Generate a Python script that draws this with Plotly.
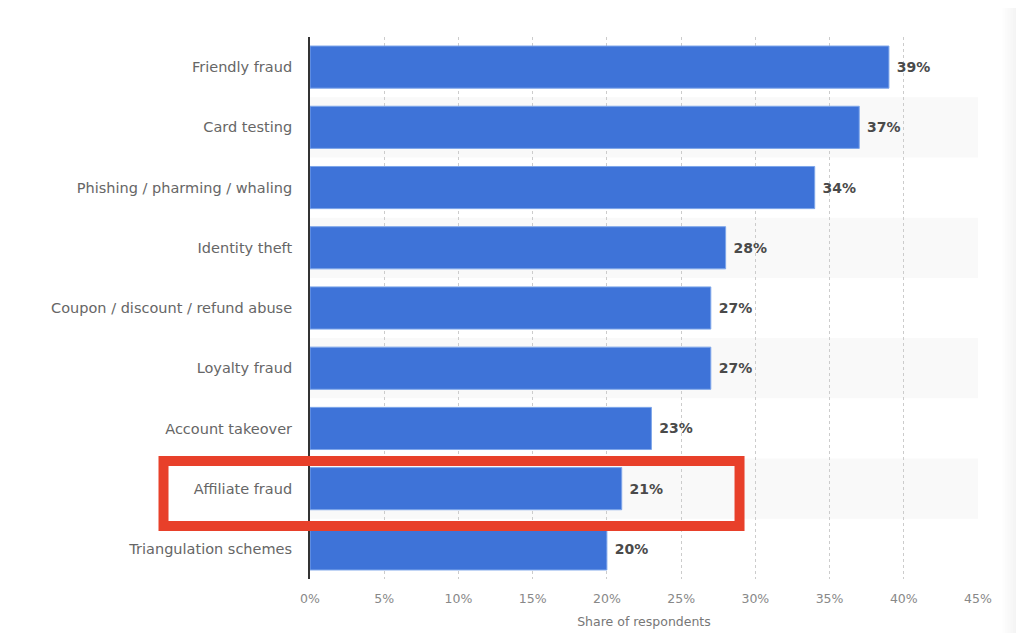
import plotly.graph_objects as go

# DATA

categories = [
    "Friendly fraud",
    "Card testing",
    "Phishing / pharming / whaling",
    "Identity theft",
    "Coupon / discount / refund abuse",
    "Loyalty fraud",
    "Account takeover",
    "Affiliate fraud",
    "Triangulation schemes",
]
shares = [39, 37, 34, 28, 27, 27, 23, 21, 20]
tick_values = [0, 5, 10, 15, 20, 25, 30, 35, 40, 45]
tick_labels = [f"{v}%" for v in tick_values]
axis_title = "Share of respondents"
highlighted = "Affiliate fraud"

font_family = "DejaVu Sans"

fig = go.Figure(go.Bar(
    y=categories,
    x=shares,
    orientation="h",
    marker=dict(color="#3e73d8", line=dict(color="#7ea6ea", width=1)),
    width=0.7,
    text=[f"\u00a0{v}%" for v in shares],
    textposition="outside",
    cliponaxis=False,
    textfont=dict(family=font_family, size=14, color="#4a4a4a", weight="bold"),
    hoverinfo="skip",
))

# alternating row bands
shapes = []
for i in range(len(categories)):
    if i % 2 == 1:
        shapes.append(dict(
            type="rect", xref="x", yref="y", layer="below",
            x0=0, x1=45, y0=i - 0.5, y1=i + 0.5,
            fillcolor="#f9f9f9", line=dict(width=0),
        ))

# red highlight box around the affiliate fraud row
idx = categories.index(highlighted)
shapes.append(dict(
    type="rect", xref="paper", yref="y",
    x0=-0.2193, x1=0.643, y0=idx - 0.46, y1=idx + 0.62,
    line=dict(color="#e8402a", width=10), fillcolor="rgba(0,0,0,0)",
))

# faint page shadow at the right edge
for k in range(8):
    shapes.append(dict(
        type="rect", xref="paper", yref="paper", layer="below",
        x0=1.0 + 0.036 + k * 0.004, x1=1.07, y0=-0.1, y1=1.07,
        fillcolor="rgba(0,0,0,0.006)", line=dict(width=0),
    ))

# the page puts the plot 8px in from the corner, so size it to fit
fig.update_layout(
    width=1008,
    height=625,
    margin=dict(l=302, r=38, t=29, b=54),
    paper_bgcolor="white",
    plot_bgcolor="white",
    showlegend=False,
    bargap=0.3,
    shapes=shapes,
    font=dict(family=font_family),
)

fig.update_xaxes(
    range=[0, 45],
    automargin=False,
    tickmode="array",
    tickvals=tick_values,
    ticktext=tick_labels,
    ticks="outside",
    ticklen=8,
    tickcolor="rgba(0,0,0,0)",
    showgrid=True,
    gridcolor="#cccccc",
    griddash="dot",
    gridwidth=1,
    zeroline=False,
    showline=False,
    tickfont=dict(family=font_family, size=12.5, color="#888888"),
    title=dict(text=axis_title, font=dict(family=font_family, size=12.5, color="#777777"), standoff=12),
    fixedrange=True,
)

fig.update_yaxes(
    autorange="reversed",
    automargin=False,
    showgrid=False,
    showline=True,
    linecolor="#333333",
    linewidth=2,
    ticks="",
    ticklabelstandoff=13,
    tickfont=dict(family=font_family, size=14.5, color="#666666"),
    fixedrange=True,
)

fig.write_html("out.html")
